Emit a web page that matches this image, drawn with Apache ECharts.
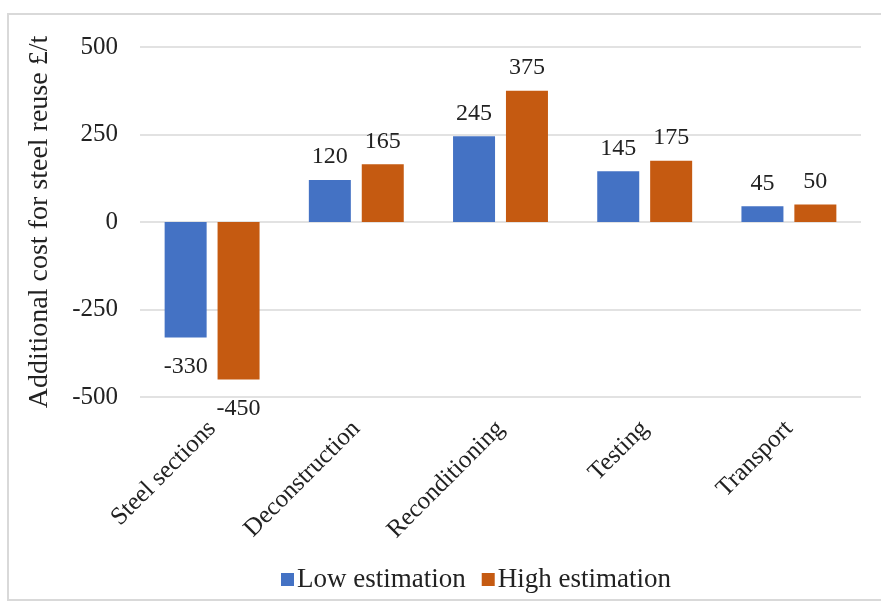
<!DOCTYPE html>
<html><head><meta charset="utf-8">
<script src="https://cdn.jsdelivr.net/npm/echarts@6/dist/echarts.min.js"></script>
<style>html,body{margin:0;padding:0;background:#fff}#c{width:881px;height:604px}</style>
</head><body><div id="c"></div>
<script>
var categories = ["Steel sections","Deconstruction","Reconditioning","Testing","Transport"];
var lowEstimation = [-330,120,245,145,45];
var highEstimation = [-450,165,375,175,50];
var yTicks = {min:-500,max:500,interval:250};
var FONT = "Liberation Serif";
function toData(arr){
  return arr.map(function(v){
    return {value:v,label:{position: v<0 ? 'bottom' : 'top', distance: v<0 ? 17 : 11}};
  });
}
var chart = echarts.init(document.getElementById('c'));
chart.setOption({
  animation:false,
  backgroundColor:'#fff',
  textStyle:{fontFamily:FONT},
  graphic:[{type:'rect',shape:{x:8,y:14,width:880,height:586},style:{fill:'none',stroke:'#d9d9d9',lineWidth:2},silent:true}],
  grid:{left:140,right:20,top:47,bottom:207},
  legend:{top:561,left:276,itemWidth:13,itemHeight:13,itemGap:16,icon:'rect',
    textStyle:{fontFamily:FONT,fontSize:27,color:'#222',padding:[0,0,0,-2]},
    data:['Low estimation','High estimation']},
  xAxis:{type:'category',data:categories,
    axisLine:{show:false},axisTick:{show:false},
    axisLabel:{rotate:45,fontFamily:FONT,fontSize:25,color:'#222',margin:28,interval:0}},
  yAxis:{type:'value',min:yTicks.min,max:yTicks.max,interval:yTicks.interval,
    name:'Additional cost for steel reuse £/t',nameLocation:'middle',nameGap:86,nameRotate:90,
    nameTextStyle:{fontFamily:FONT,fontSize:28,color:'#222'},
    axisLine:{show:false},axisTick:{show:false},
    splitLine:{lineStyle:{color:'#d9d9d9',width:1.5}},
    axisLabel:{fontFamily:FONT,fontSize:25,color:'#222',margin:22}},
  series:[
    {name:'Low estimation',type:'bar',data:toData(lowEstimation),barWidth:42,barGap:'26%',
     itemStyle:{color:'#4472C4'},
     label:{show:true,fontFamily:FONT,fontSize:24,color:'#222'}},
    {name:'High estimation',type:'bar',data:toData(highEstimation),barWidth:42,
     itemStyle:{color:'#C55A11'},
     label:{show:true,fontFamily:FONT,fontSize:24,color:'#222'}}
  ]
});
</script></body></html>
